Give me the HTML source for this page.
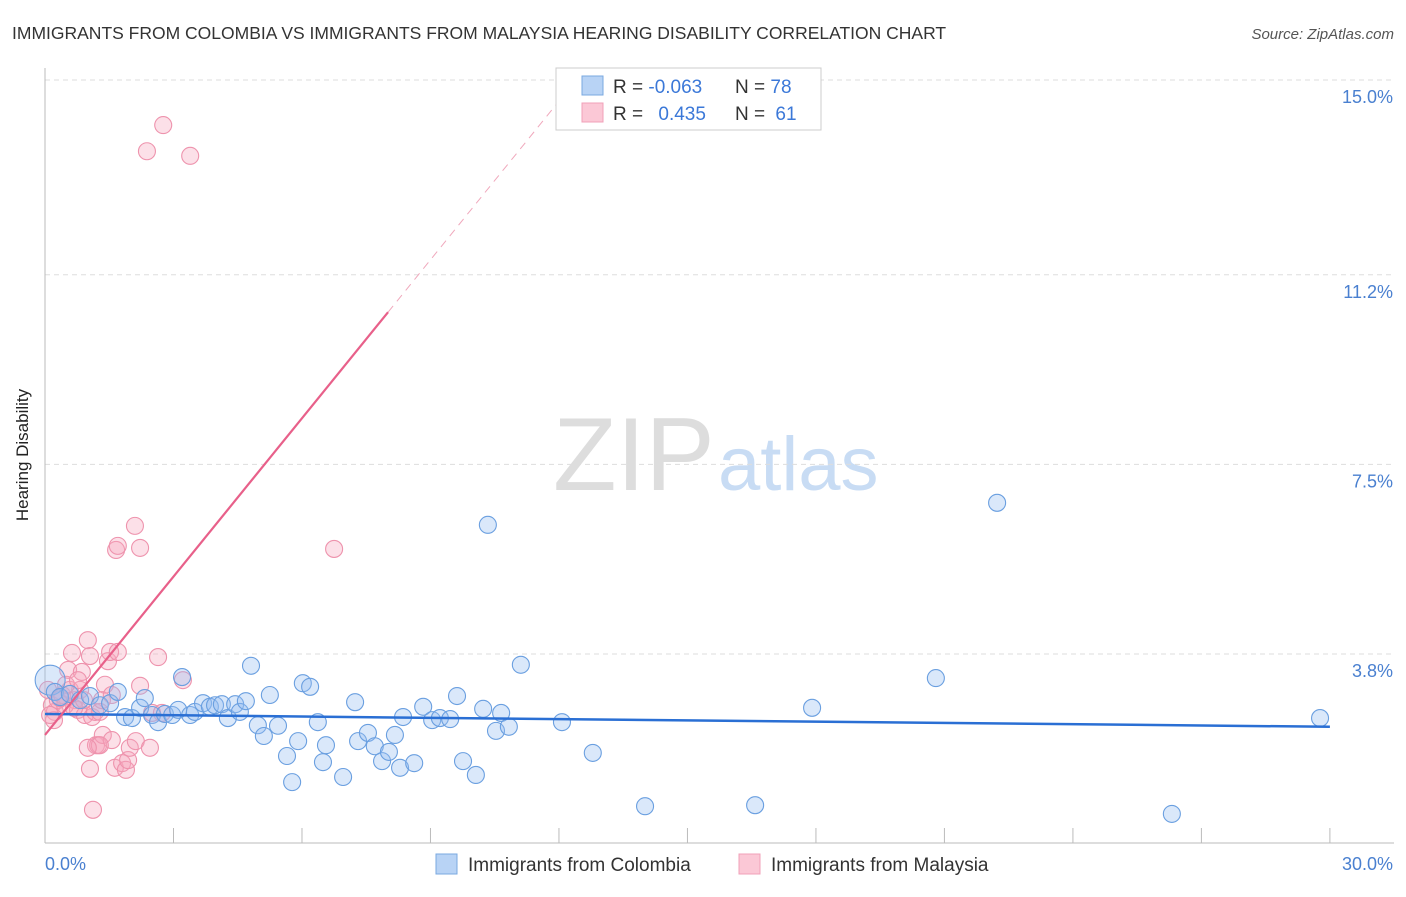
<!DOCTYPE html>
<html><head><meta charset="utf-8"><style>
body{margin:0;background:#fff;font-family:"Liberation Sans",sans-serif;}
svg text{font-family:"Liberation Sans",sans-serif;}
</style></head><body>
<svg width="1406" height="892">
<text x="12" y="39" font-size="17.5" fill="#333">IMMIGRANTS FROM COLOMBIA VS IMMIGRANTS FROM MALAYSIA HEARING DISABILITY CORRELATION CHART</text>
<text x="1394" y="39" font-size="15" fill="#555" font-style="italic" text-anchor="end">Source: ZipAtlas.com</text>
<text x="553" y="490" font-size="104" fill="#ddd" font-family="Liberation Serif">ZIP</text>
<text x="718" y="490" font-size="76" fill="#c8dcf4">atlas</text>
<g id="grid"></g>
<line x1="45" y1="68" x2="45" y2="843" stroke="#bbb"/>
<line x1="45" y1="843" x2="1394" y2="843" stroke="#bbb"/>
<g id="xticks"></g>
<text x="28" y="455" font-size="17" fill="#222" transform="rotate(-90 28 455)" text-anchor="middle">Hearing Disability</text>
<text x="45" y="870" font-size="18" fill="#4a80d0">0.0%</text>
<text x="1393" y="870" font-size="18" fill="#4a80d0" text-anchor="end">30.0%</text>
<g id="pink"></g><g id="blue"></g><g id="trend"></g>
<g>
<rect x="556" y="68" width="265" height="62" fill="#fff" stroke="#ccc"/>
<rect x="582" y="76" width="21" height="19" fill="#b8d3f5" stroke="#7aa8e0"/>
<rect x="582" y="103" width="21" height="19" fill="#fbc8d6" stroke="#f0a0b8"/>
<text x="613" y="93" font-size="19" fill="#333">R = <tspan fill="#3b78d8">-0.063</tspan></text>
<text x="735" y="93" font-size="19" fill="#333">N = <tspan fill="#3b78d8">78</tspan></text>
<text x="613" y="120" font-size="19" fill="#333">R = <tspan fill="#3b78d8" dx="10">0.435</tspan></text>
<text x="735" y="120" font-size="19" fill="#333">N = <tspan fill="#3b78d8" dx="5">61</tspan></text>
</g>
<g>
<rect x="436" y="854" width="21" height="20" fill="#b8d3f5" stroke="#7aa8e0"/>
<text x="468" y="871" font-size="19" fill="#333">Immigrants from Colombia</text>
<rect x="739" y="854" width="21" height="20" fill="#fbc8d6" stroke="#f0a0b8"/>
<text x="771" y="871" font-size="19" fill="#333">Immigrants from Malaysia</text>
</g>
</svg>
<script>
const yTicks=[15.0,11.2,7.5,3.8];
const yTickLabels=["15.0%","11.2%","7.5%","3.8%"];
const xTicks=[0,3,6,9,12,15,18,21,24,27,30];
const bluePx=[[50,680],[55,692],[60,697],[70,694],[80,700],[90,696],[100,705],[110,703],[118,692],[125,717],[132,718],[140,708],[145,698],[152,715],[158,722],[165,714],[172,715],[178,710],[182,677],[190,715],[195,712],[203,703],[210,707],[215,705],[222,704],[228,718],[235,704],[240,712],[246,701],[251,666],[258,725],[264,736],[270,695],[278,726],[287,756],[292,782],[298,741],[303,683],[310,687],[318,722],[323,762],[326,745],[343,777],[355,702],[358,741],[368,733],[375,746],[382,761],[389,752],[395,735],[400,768],[403,717],[414,763],[423,707],[432,720],[440,718],[450,719],[457,696],[463,761],[476,775],[483,709],[488,525],[496,731],[501,713],[509,727],[521,665],[562,722],[593,753],[645,806],[755,805],[812,708],[936,678],[997,503],[1172,814],[1320,718]];
const pinkPx=[[48,690],[52,705],[55,712],[58,700],[62,695],[65,705],[68,670],[70,690],[72,653],[75,700],[78,710],[80,690],[82,672],[85,715],[88,640],[90,656],[92,717],[95,712],[96,745],[98,745],[100,712],[103,735],[105,685],[108,661],[110,652],[112,740],[115,768],[116,550],[118,546],[118,652],[122,763],[126,770],[128,760],[130,748],[135,526],[136,741],[140,548],[140,686],[150,748],[152,713],[158,657],[162,713],[183,680],[147,151],[163,125],[190,156],[334,549],[93,810],[90,769],[60,698],[66,685],[74,708],[84,700],[100,745],[88,748],[78,680],[102,700],[112,695],[54,720],[50,715]];
const blueX=bluePx.map(p=>+((p[0]-45)/42.83).toFixed(2));
const blueY=bluePx.map(p=>+(15-(p[1]-80)/51.25).toFixed(2));
const pinkX=pinkPx.map(p=>+((p[0]-45)/42.83).toFixed(2));
const pinkY=pinkPx.map(p=>+(15-(p[1]-80)/51.25).toFixed(2));
const blueTrend=[[0,2.63],[30,2.38]];
const pinkTrend=[[0,2.22],[8.01,10.47]];
const pinkTrendExt=[[8.01,10.47],[12.4,15]];
const X=v=>45+v*42.83, Y=v=>80+(15-v)*51.25;
const NS="http://www.w3.org/2000/svg";
function mk(t,a,parent){const e=document.createElementNS(NS,t);for(const k in a)e.setAttribute(k,a[k]);document.getElementById(parent).appendChild(e);return e;}
yTicks.forEach((v,i)=>{
 const l=mk('line',{x1:45,x2:1394,y1:Y(v),y2:Y(v),stroke:'#ddd','stroke-dasharray':'5,4'},'grid');
 
 
 const t=mk('text',{x:1393,y:Y(v)+23,'font-size':18,fill:'#4a80d0','text-anchor':'end'},'grid');
 t.textContent=yTickLabels[i];
 
 
});
xTicks.forEach(v=>{
 const l=mk('line',{x1:X(v),x2:X(v),y1:828,y2:843,stroke:'#bbb'},'xticks');
 
 
});
pinkX.forEach((x,i)=>{
 const c=mk('circle',{cx:X(x),cy:Y(pinkY[i]),r:8.5,fill:'rgba(246,165,188,0.35)',stroke:'#ee93ad','stroke-width':1.1},'pink');
 
 
});
blueX.forEach((x,i)=>{
 const c=mk('circle',{cx:X(x),cy:Y(blueY[i]),r:i==0?15:8.5,fill:'rgba(150,190,240,0.35)',stroke:'#6a9fe0','stroke-width':1.1},'blue');
 
 
});
let l=mk('line',{x1:X(blueTrend[0][0]),y1:Y(blueTrend[0][1]),x2:X(blueTrend[1][0]),y2:Y(blueTrend[1][1]),stroke:'#2a6fd4','stroke-width':2.5},'trend');


l=mk('line',{x1:X(pinkTrend[0][0]),y1:Y(pinkTrend[0][1]),x2:X(pinkTrend[1][0]),y2:Y(pinkTrend[1][1]),stroke:'#e8608a','stroke-width':2.2},'trend');


l=mk('line',{x1:X(pinkTrendExt[0][0]),y1:Y(pinkTrendExt[0][1]),x2:X(pinkTrendExt[1][0]),y2:Y(pinkTrendExt[1][1]),stroke:'#f0a8bc','stroke-width':1,'stroke-dasharray':'8,6'},'trend');


</script>
</body></html>
